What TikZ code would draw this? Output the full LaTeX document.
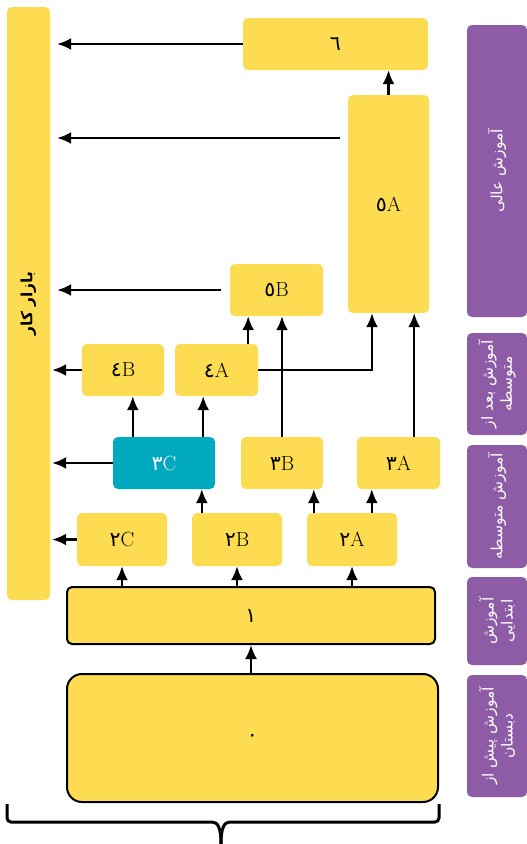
\documentclass[tikz,border=0pt]{standalone}
\usepackage{fontspec}
\usepackage{tikz}
\usetikzlibrary{positioning}
\usetikzlibrary{arrows.meta}
\newfontfamily\arabicfont[Script=Arabic]{DejaVu Sans}
\TeXXeTstate=1
\definecolor{boxyellow}{HTML}{FEDC52}
\definecolor{boxteal}{HTML}{00A9BD}
\definecolor{stagepurple}{HTML}{8E5BA6}
\newcommand{\dig}[1]{{\arabicfont #1}}
\newcommand{\fa}[1]{{\arabicfont\beginR #1\endR}}

\begin{document}
\begin{tikzpicture}[x=1pt,y=-1pt,
  ybox/.style={rectangle, rounded corners=5pt, fill=boxyellow, inner sep=0pt, font=\fontsize{20.5}{24}\selectfont},
  tbox/.style={ybox, fill=boxteal, text=white},
  bbox/.style={ybox, draw=black, line width=2pt},
  stage/.style={rectangle, rounded corners=5pt, fill=stagepurple, text=white, inner sep=0pt, rotate=90, align=center, font=\fontsize{15.5}{19}\selectfont},
  arr/.style={-{Latex[length=14pt,width=12pt]}, line width=2.2pt}]
\useasboundingbox (0,0) rectangle (527,844);
%%%%%%%%%%%%%%%%%%%%%%%%%%%%%%%%%%%%%
\node[ybox, rotate=90, minimum width=593pt, minimum height=43pt, font=\fontsize{15.5}{18}\selectfont\bfseries] (bar) at (28.5,303.5) {\fa{بازار کار}};
%%%%%%%%%%%%%%%%%%%%%%%%%%%%%%%%%%%%%
\node[ybox, minimum width=185pt, minimum height=52pt] (six) at (335.5,44) {\dig{٦}};
\node[ybox, minimum width=81pt, minimum height=218pt] (fiveA) at (388.5,204) {\dig{٥}A};
\node[ybox, minimum width=93pt, minimum height=52pt] (fiveB) at (276.5,290) {\dig{٥}B};
\node[ybox, minimum width=82pt, minimum height=52pt] (fourB) at (123,370) {\dig{٤}B};
\node[ybox, minimum width=83pt, minimum height=52pt] (fourA) at (216.5,370) {\dig{٤}A};
\node[tbox, minimum width=102pt, minimum height=52pt] (threeC) at (164,463) {\dig{٣}C};
\node[ybox, minimum width=82pt, minimum height=52pt] (threeB) at (282,463) {\dig{٣}B};
\node[ybox, minimum width=83pt, minimum height=52pt] (threeA) at (398.5,463) {\dig{٣}A};
\node[ybox, minimum width=90pt, minimum height=53pt] (twoC) at (122,539.5) {\dig{٢}C};
\node[ybox, minimum width=90pt, minimum height=53pt] (twoB) at (237,539.5) {\dig{٢}B};
\node[ybox, minimum width=90pt, minimum height=53pt] (twoA) at (352,539.5) {\dig{٢}A};
\node[bbox, minimum width=368pt, minimum height=57pt] (one) at (251,615.5) {\dig{١}};
\node[bbox, rounded corners=15pt, minimum width=371pt, minimum height=128pt] (zero) at (252.5,738) {\dig{٠}};
%%%%%%%%%%%%%%%%%%%%%%%%%%%%%%%%%%%%%
\node[stage, minimum width=292pt, minimum height=60pt] (high) at (497,171) {\fa{آموزش عالی}};
\node[stage, minimum width=102pt, minimum height=60pt] (post) at (497,384) {\fa{آموزش بعد از}\\ \fa{متوسطه}};
\node[stage, minimum width=123pt, minimum height=60pt] (second) at (497,506.5) {\fa{آموزش متوسطه}};
\node[stage, minimum width=88pt, minimum height=60pt] (prim) at (497,621) {\fa{آموزش}\\ \fa{ابتدایی}};
\node[stage, minimum width=122pt, minimum height=60pt] (pre) at (497,736) {\fa{آموزش پیش از}\\ \fa{دبستان}};
%%%%%%%%%%%%%%%%%%%%%%%%%%%%%%%%%%%%%
\coordinate (mkA) at (340,138);
\coordinate (mkB) at (221,290);
%%%%%%%%%%%%%%%%%%%%%%%%%%%%%%%%%%%%%
\draw[arr] (zero.north -| one) -- (one.south);
\draw[arr] (one.north -| twoC) -- (twoC.south);
\draw[arr] (one.north -| twoB) -- (twoB.south);
\draw[arr] (one.north -| twoA) -- (twoA.south);
%%%%%%%%%%%%%%%%%%%%%%%%%%%%%%%%%%%%%
\draw[arr] ([xshift=10pt]twoB.north west) -- ([xshift=10pt]twoB.north west |- threeC.south);
\draw[arr] ([xshift=7pt]twoA.north west) -- ([xshift=7pt]twoA.north west |- threeB.south);
\draw[arr] ([xshift=15pt]threeA.south west |- twoA.north) -- ([xshift=15pt]threeA.south west);
%%%%%%%%%%%%%%%%%%%%%%%%%%%%%%%%%%%%%
\draw[arr] ([xshift=20pt]threeC.north west) -- ([xshift=20pt]threeC.north west |- fourB.south);
\draw[arr] ([xshift=-12pt]threeC.north east) -- ([xshift=-12pt]threeC.north east |- fourA.south);
\draw[arr] ([xshift=-10pt]fourA.north east) -- ([xshift=-10pt]fourA.north east |- fiveB.south);
\draw[arr] (threeB.north) -- (threeB.north |- fiveB.south);
\draw[arr] (fourA.east) -| ([xshift=-16.5pt]fiveA.south);
\draw[arr] ([xshift=-26pt]threeA.north east) -- ([xshift=-26pt]threeA.north east |- fiveA.south);
\draw[arr] (fiveA.north) -- (fiveA.north |- six.south);
%%%%%%%%%%%%%%%%%%%%%%%%%%%%%%%%%%%%%
% bar is turned, so its south side faces right
\draw[arr] (six.west) -- ([xshift=7pt]six.west -| bar.south);
\draw[arr] (mkA) -- ([xshift=7pt]mkA -| bar.south);
\draw[arr] (mkB) -- ([xshift=7pt]mkB -| bar.south);
\draw[arr] (fourB.west) -- ([xshift=2pt]fourB.west -| bar.south);
\draw[arr] (threeC.west) -- ([xshift=2pt]threeC.west -| bar.south);
\draw[arr] (twoC.west) -- ([xshift=2pt]twoC.west -| bar.south);
%%%%%%%%%%%%%%%%%%%%%%%%%%%%%%%%%%%%%
\draw[line width=3pt, rounded corners=4pt] (7,804) -- (7,822) -- (208,822) .. controls (218,822) and (221,828) .. (221,844);
\draw[line width=3pt, rounded corners=4pt] (439,804) -- (439,822) -- (234,822) .. controls (224,822) and (221,828) .. (221,844);
\end{tikzpicture}
\end{document}
